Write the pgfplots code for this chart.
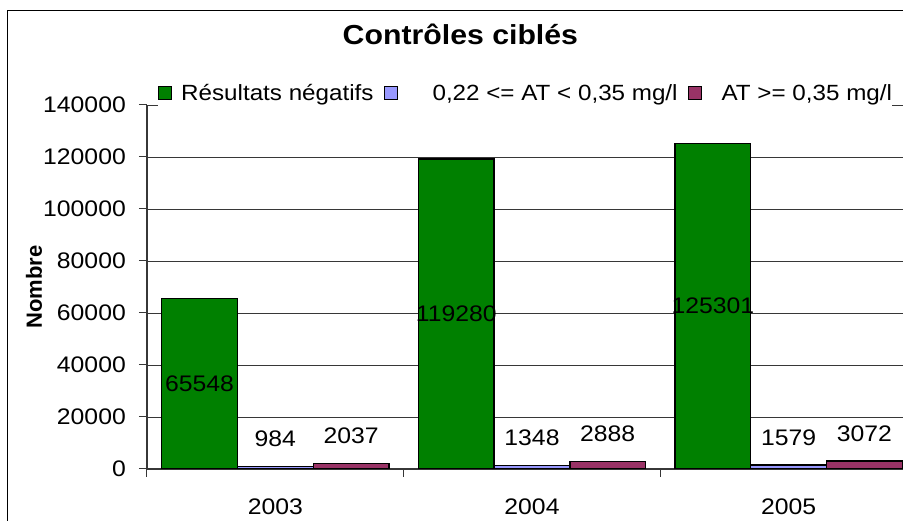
\documentclass[border=0pt]{standalone}
\usepackage{pgfplots}
\pgfplotsset{compat=1.18}
\usepackage{fontspec}
\setmainfont{Liberation Sans}[FakeStretch=1.1]
\newfontfamily\nstretch{Liberation Sans}
\definecolor{gbar}{RGB}{0,128,0}
\definecolor{lbar}{RGB}{153,153,255}
\definecolor{mbar}{RGB}{153,51,102}
\definecolor{gridc}{RGB}{55,55,55}
\begin{document}
\begin{tikzpicture}
\begin{axis}[
  at={(0pt,0pt)}, anchor=south west,
  scale only axis, width=770pt, height=364pt,
  xmin=-0.5, xmax=2.5, ymin=0, ymax=140000,
  enlargelimits=false,
  ytick={0,20000,40000,60000,80000,100000,120000,140000},
  scaled y ticks=false,
  yticklabel style={/pgf/number format/fixed, /pgf/number format/1000 sep={}, inner sep=0pt, xshift=-13pt},
  /pgf/number format/assume math mode=true,
  ymajorgrids, grid style={gridc, line width=0.8pt},
  xtick={0,1,2}, xticklabels={2003,2004,2005},
  minor xtick={-0.5,0.5,1.5,2.5},
  major x tick style={draw=none},
  tick align=outside, major tick length=8pt, minor tick length=8pt,
  tick style={gridc, line width=1pt},
  xticklabel style={inner sep=0pt, yshift=-22pt},
  axis lines*=left, axis line style={-, gridc, line width=1.2pt},
  tick label style={font=\fontsize{22.5}{26}\selectfont},
  ylabel={Nombre},
  ylabel style={font=\nstretch\bfseries\fontsize{22}{26}\selectfont, at={(axis description cs:-0.1468,0.5)}, anchor=center},
  title={Contrôles ciblés},
  title style={font=\bfseries\fontsize{27.5}{30}\selectfont, at={(axis description cs:0.407,1.1786)}, anchor=center},
  legend style={at={(axis description cs:0.0143,1.033)}, anchor=west, draw=none, fill=white,
    font=\fontsize{22}{26}\selectfont, inner xsep=0pt, inner ysep=5pt,
    nodes={inner sep=0pt},
    /tikz/every odd column/.append style={column sep=9pt},
    /tikz/every even column/.append style={column sep=10pt}},
  legend columns=3,
  ybar, bar width=0.295,
  legend image code/.code={\draw[#1, line width=1pt] (0pt,-6.5pt) rectangle (13pt,6.5pt);},
  point meta=explicit symbolic,
  nodes near coords={\pgfplotspointmeta},
  every node near coord/.append style={font=\fontsize{22.5}{26}\selectfont, text=black, inner sep=0pt},
]
\addplot[fill=gbar, draw=black, line width=1.3pt, bar shift=-0.295,
  visualization depends on={y \as \rawy},
  every node near coord/.append style={anchor=center, shift={(axis direction cs:0,-\rawy/2)}}]
  coordinates {(0,65548) [65548] (1,119280) [119280] (2,125301) [125301]};
\addlegendentry{Résultats négatifs}
\addplot[fill=lbar, draw=black, line width=1.3pt, bar shift=0,
  every node near coord/.append style={anchor=south, yshift=19pt}]
  coordinates {(0,984) [984] (1,1348) [1348] (2,1579) [1579]};
\addlegendentry{\hspace{26pt}0,22 <= AT < 0,35 mg/l}
\addplot[fill=mbar, draw=black, line width=1.3pt, bar shift=0.295,
  every node near coord/.append style={anchor=south, yshift=19pt}]
  coordinates {(0,2037) [2037] (1,2888) [2888] (2,3072) [3072]};
\addlegendentry{\hspace{11pt}AT >= 0,35 mg/l}
\end{axis}
\pgfresetboundingbox
\useasboundingbox (-147pt,-52pt) rectangle (756pt,469pt);
\draw[black, line width=1pt] (-139pt,-200pt) -- (-139pt,458pt) -- (900pt,458pt);
\end{tikzpicture}
\end{document}
